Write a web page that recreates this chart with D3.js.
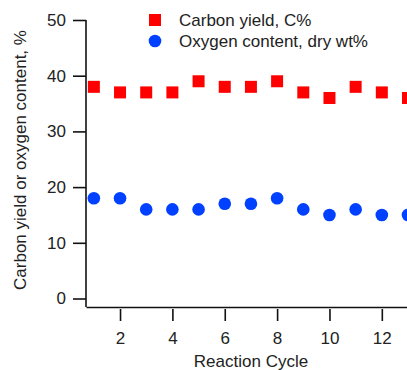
<!DOCTYPE html>
<html>
<head>
<meta charset="utf-8">
<script src="https://cdn.jsdelivr.net/npm/d3@7"></script>
<style>
body { margin: 0; background: #fff; }
text { font-family: "Liberation Sans", Arial, sans-serif; fill: #222; }
</style>
</head>
<body>
<div id="chart"></div>
<script>
// data
const cycles = [1, 2, 3, 4, 5, 6, 7, 8, 9, 10, 11, 12, 13];
const carbonYield = [38, 37, 37, 37, 39, 38, 38, 39, 37, 36, 38, 37, 36];
const oxygenContent = [18, 18, 16, 16, 16, 17, 17, 18, 16, 15, 16, 15, 15];
const xTicks = [2, 4, 6, 8, 10, 12];
const yTicks = [0, 10, 20, 30, 40, 50];
const legendLabels = ["Carbon yield, C%", "Oxygen content, dry wt%"];

const width = 407, height = 370;
const fs = 17;
const svg = d3.select("#chart").append("svg")
    .attr("width", width)
    .attr("height", height);

const x = d3.scaleLinear().domain([0.7, 13]).range([86, 408]);
const y = d3.scaleLinear().domain([0, 50]).range([298.5, 20]);

// axes
let xAxis = svg.append("g")
    .attr("transform", "translate(0,307)")
    .call(d3.axisBottom(x).tickValues(xTicks).tickSize(14).tickPadding(11).tickSizeOuter(0));
xAxis.select(".domain").attr("stroke", "#111").attr("stroke-width", 1.6);
xAxis.selectAll(".tick line").attr("stroke", "#111").attr("stroke-width", 1.6).attr("y1", 2);
xAxis.selectAll("text").attr("font-size", fs).style("font-family", "Liberation Sans, Arial, sans-serif").attr("fill", "#222");

let yAxis = svg.append("g")
    .attr("transform", "translate(86,0)")
    .call(d3.axisLeft(y).tickValues(yTicks).tickSize(13).tickPadding(7).tickSizeOuter(0));
yAxis.select(".domain").attr("d", "M0," + 20 + "V" + 307).attr("stroke", "#111").attr("stroke-width", 1.6);
yAxis.selectAll(".tick line").attr("stroke", "#111").attr("stroke-width", 1.6);
yAxis.selectAll("text").attr("font-size", fs).style("font-family", "Liberation Sans, Arial, sans-serif").attr("fill", "#222");

// axis titles
svg.append("text")
    .attr("x", 251).attr("y", 367)
    .attr("text-anchor", "middle")
    .attr("font-size", fs)
    .text("Reaction Cycle");

svg.append("text")
    .attr("transform", "translate(26,160) rotate(-90)")
    .attr("text-anchor", "middle")
    .attr("font-size", fs)
    .text("Carbon yield or oxygen content, %");

// marks
const red = "#ff0000", blue = "#0040ff";
const sq = 12;

svg.append("g").selectAll("rect")
    .data(cycles)
    .enter()
    .append("rect")
    .attr("x", (d, i) => x(d) - sq / 2)
    .attr("y", (d, i) => y(carbonYield[i]) - sq / 2)
    .attr("width", sq)
    .attr("height", sq)
    .attr("fill", red);

svg.append("g").selectAll("circle")
    .data(cycles)
    .enter()
    .append("circle")
    .attr("cx", d => x(d))
    .attr("cy", (d, i) => y(oxygenContent[i]))
    .attr("r", 6.3)
    .attr("fill", blue);

// legend
let legend = svg.append("g");
legend.append("rect")
    .attr("x", 149).attr("y", 14)
    .attr("width", sq).attr("height", sq)
    .attr("fill", red);
legend.append("circle")
    .attr("cx", 155).attr("cy", 41)
    .attr("r", 6.3)
    .attr("fill", blue);
legend.selectAll("text.lab")
    .data(legendLabels)
    .enter()
    .append("text")
    .attr("class", "lab")
    .attr("x", 179)
    .attr("y", (d, i) => 26 + i * 21)
    .attr("font-size", fs)
    .text(d => d);
</script>
</body>
</html>
